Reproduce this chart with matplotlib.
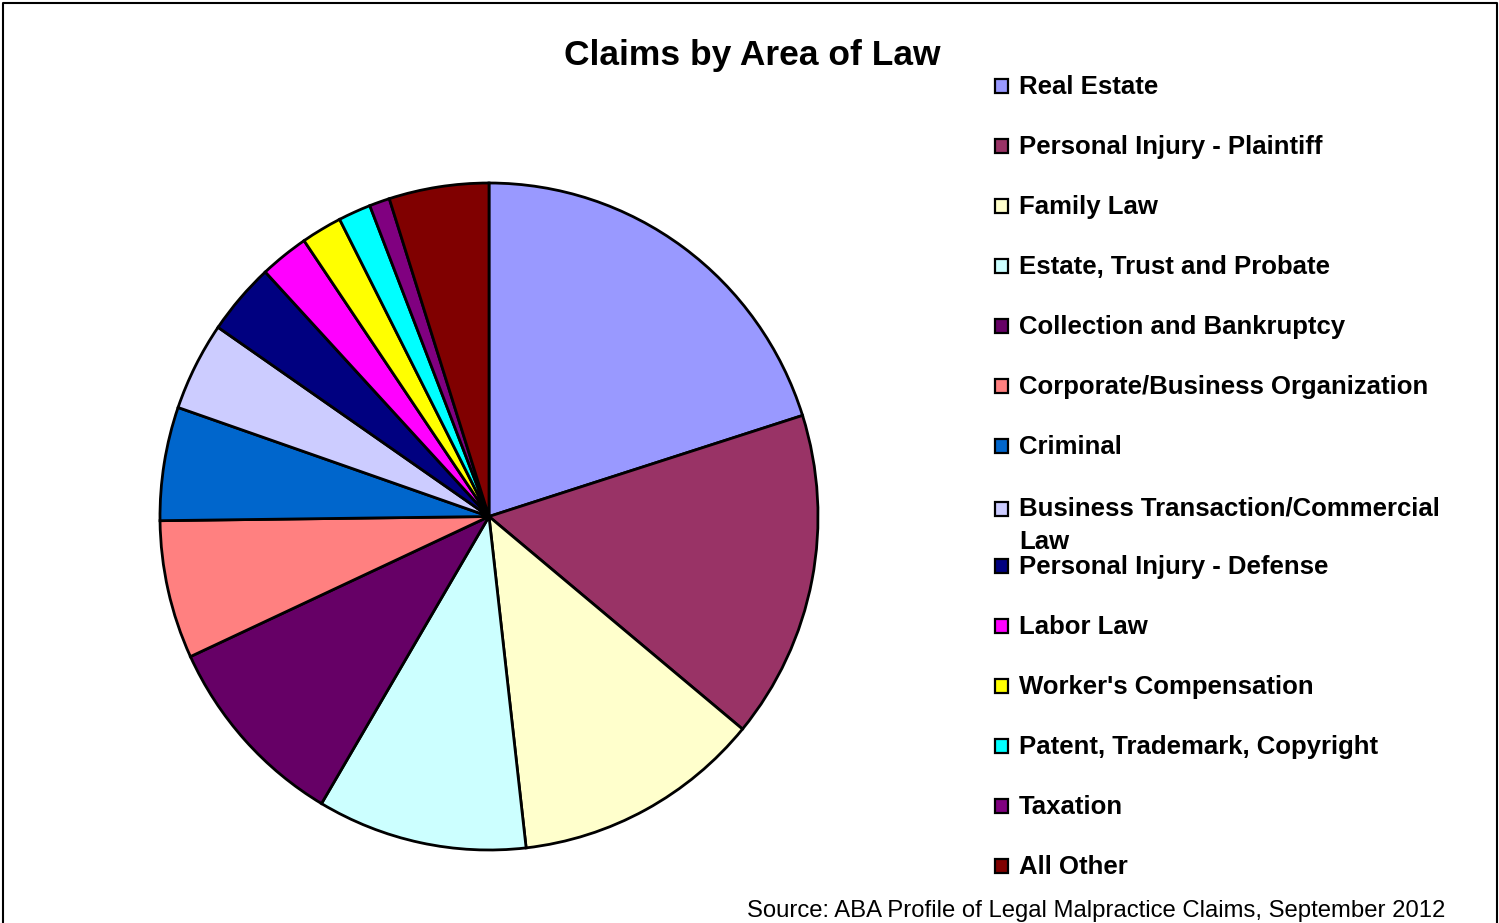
import matplotlib
matplotlib.use("Agg")
import matplotlib.pyplot as plt
from matplotlib.patches import Rectangle
from matplotlib.lines import Line2D

areas = [
    "Real Estate",
    "Personal Injury - Plaintiff",
    "Family Law",
    "Estate, Trust and Probate",
    "Collection and Bankruptcy",
    "Corporate/Business Organization",
    "Criminal",
    "Business Transaction/Commercial\nLaw",
    "Personal Injury - Defense",
    "Labor Law",
    "Worker's Compensation",
    "Patent, Trademark, Copyright",
    "Taxation",
    "All Other",
]
shares = [20.1, 15.9, 12.2, 10.3, 9.6, 6.7, 5.5, 4.3, 3.5, 2.4, 2.0, 1.6, 1.0, 4.9]
colors = ["#9999FF", "#993366", "#FFFFCC", "#CCFFFF", "#660066", "#FF8080",
          "#0066CC", "#CCCCFF", "#000080", "#FF00FF", "#FFFF00", "#00FFFF",
          "#800080", "#800000"]

W, H = 1499, 923
fig = plt.figure(figsize=(W / 100, H / 100), dpi=100)

# pie: centre (489, 516.5) px, slightly taller than wide like the original
cx, cy, rx, ry = 489, 516.5, 329, 333.5
ax = fig.add_axes([(cx - rx) / W, 1 - (cy + ry) / H, 2 * rx / W, 2 * ry / H])
ax.pie(shares, colors=colors, startangle=90, counterclock=False, radius=1,
       wedgeprops=dict(edgecolor="black", linewidth=2.0))
ax.set_xlim(-1.0, 1.0)
ax.set_ylim(-1.0, 1.0)
ax.set_aspect("auto")
ax.axis("off")

fig.text(752 / W, 1 - 55 / H, "Claims by Area of Law", ha="center", va="center",
         fontsize=25.5, fontweight="bold", family="Liberation Sans")

# legend drawn by hand to match the spacing
for i, (lab, col) in enumerate(zip(areas, colors)):
    y = 86 + 60 * i
    if i == 7:
        y = 509
    size = 14
    fig.patches.append(Rectangle((994.5 / W, 1 - (y + size / 2) / H),
                                 size / W, size / H, transform=fig.transFigure,
                                 facecolor=col, edgecolor="black", linewidth=1.6))
    if "\n" in lab:
        fig.text(1019 / W, 1 - (y - 12) / H, lab, ha="left", va="top",
                 fontsize=18.5, fontweight="bold", family="Liberation Sans",
                 linespacing=1.45)
    else:
        fig.text(1019 / W, 1 - (y + 1) / H, lab, ha="left", va="center",
                 fontsize=18.5, fontweight="bold", family="Liberation Sans")

fig.text(1445 / W, 1 - 911 / H,
         "Source: ABA Profile of Legal Malpractice Claims, September 2012",
         ha="right", va="center", fontsize=17.2, family="Liberation Sans")

# outer frame (left, top, right)
fx0, fx1, fy = 2.5 / W, 1 - 2.5 / W, 1 - 2.5 / H
fig.lines.append(Line2D([fx0, fx0, fx1, fx1], [0, fy, fy, 0],
                        transform=fig.transFigure, color="black", linewidth=1.5))

fig.savefig("out.png", dpi=100)
